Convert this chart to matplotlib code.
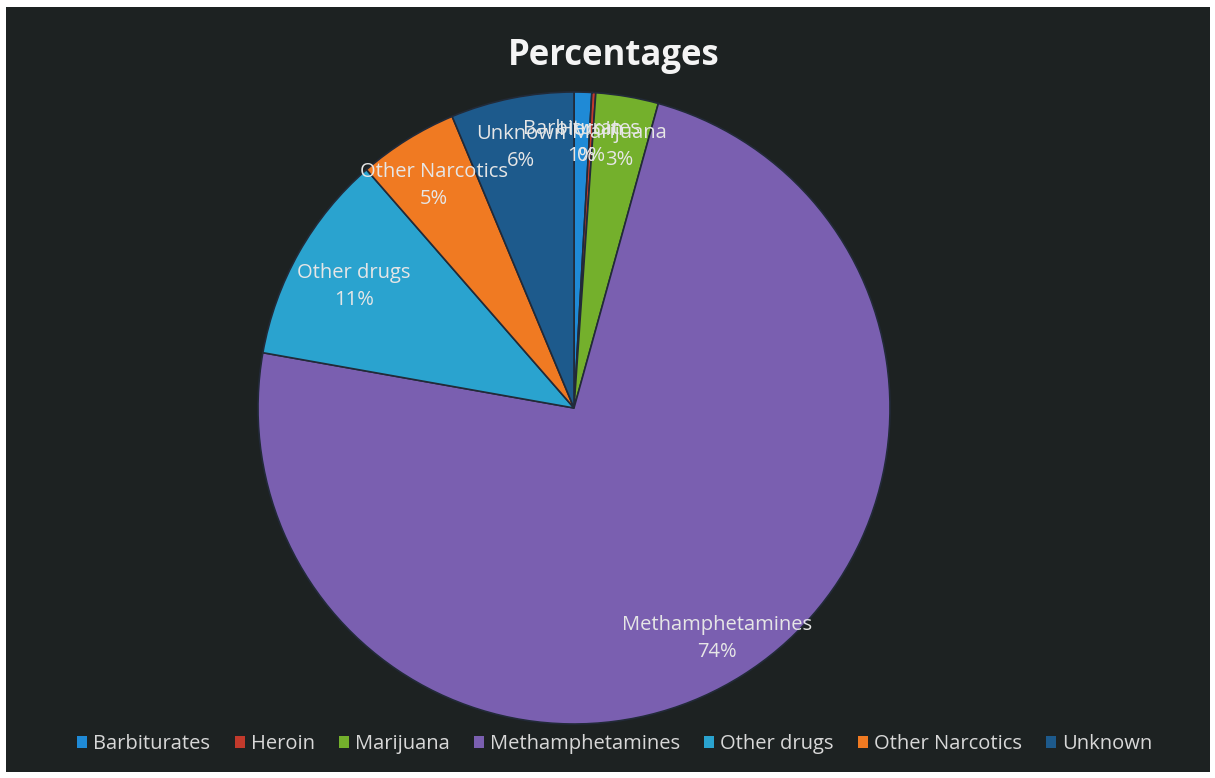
import numpy as np
import matplotlib
matplotlib.use("Agg")
import matplotlib.pyplot as plt
from matplotlib.patches import Rectangle, Patch

categories = ["Barbiturates", "Heroin", "Marijuana", "Methamphetamines",
              "Other drugs", "Other Narcotics", "Unknown"]
values = [0.9, 0.2, 3.2, 73.5, 10.8, 5.1, 6.3]
colors = ["#1f8ad6", "#c23a2c", "#74b02c", "#7a5fb0", "#2aa3cf", "#f07a22", "#1d5a8c"]
title = "Percentages"

plt.rcParams['font.family'] = ['Open Sans', 'DejaVu Sans']

W, H = 1215, 778
fig = plt.figure(figsize=(W / 100, H / 100), dpi=100, facecolor="white")

# dark chart area
bg = fig.add_axes([0, 0, 1, 1])
bg.set_xlim(0, W); bg.set_ylim(H, 0); bg.axis("off")
bg.add_patch(Rectangle((6, 7), 1204, 765, facecolor="#1d2222", edgecolor="none"))

cx, cy, r = 574, 408, 316
ax = fig.add_axes([(cx - r) / W, (H - cy - r) / H, 2 * r / W, 2 * r / H])
wedges, _ = ax.pie(values, colors=colors, startangle=90, counterclock=False, radius=1,
                   wedgeprops=dict(edgecolor="#222a38", linewidth=1.2))
ax.set_xlim(-1, 1); ax.set_ylim(-1, 1); ax.set_aspect("equal"); ax.axis("off")

label_dist = [0.85, 0.85, 0.85, 0.85, 0.80, 0.84, 0.85]
total = sum(values)
for w, name, v, d in zip(wedges, categories, values, label_dist):
    mid = np.deg2rad((w.theta1 + w.theta2) / 2)
    ax.text(d * np.cos(mid), d * np.sin(mid) - 0.01, f"{name}\n{round(100 * v / total):.0f}%",
            ha="center", va="center", color="#e6e6e6", fontsize=14.5, linespacing=1.45)

fig.text(614 / W, 1 - 56 / H, title, ha="center", va="center", color="#f4f4f4",
         fontsize=25, fontweight="bold")

handles = [Patch(facecolor=c, edgecolor="none") for c in colors]
fig.legend(handles, categories, loc="center", bbox_to_anchor=(615 / W, 1 - 744 / H),
           ncol=7, frameon=False, fontsize=14.5, labelcolor="#d8d8d8",
           handlelength=0.5, handleheight=0.5, handletextpad=0.3, columnspacing=1.2)

fig.savefig("out.png", dpi=100, facecolor="white")
